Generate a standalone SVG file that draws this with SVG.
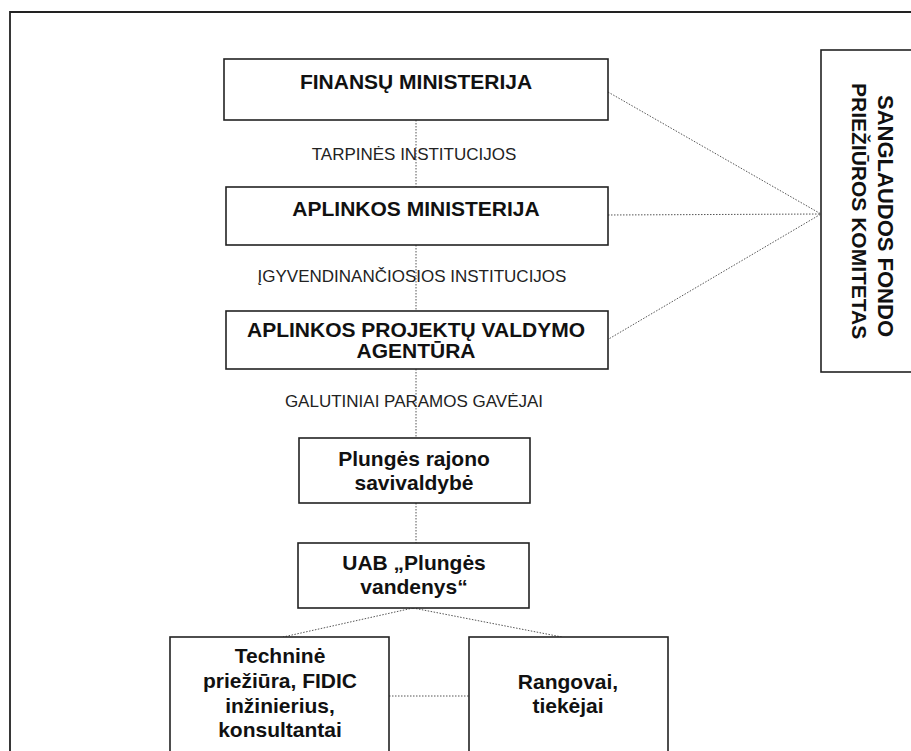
<svg xmlns="http://www.w3.org/2000/svg" width="911" height="751" viewBox="0 0 911 751">
<style>
.box{fill:#fff;stroke:#222;stroke-width:1.6}
.t{font-family:"Liberation Sans",Arial,sans-serif;font-weight:bold;font-size:21px;fill:#111;text-anchor:middle}
.lbl{font-family:"Liberation Sans",Arial,sans-serif;font-size:17px;fill:#222;text-anchor:middle}
.vt{font-family:"Liberation Sans",Arial,sans-serif;font-weight:bold;fill:#111}
.c{stroke:#555;stroke-width:1;stroke-dasharray:1.5 1.5;fill:none}
</style>
<rect width="911" height="751" fill="#fff"/>
<path d="M10,751 V12 H911" fill="none" stroke="#222" stroke-width="1.8"/>
<g id="connectors">
<line class="c" x1="416" y1="120" x2="416" y2="187"/>
<line class="c" x1="416" y1="245" x2="416" y2="311"/>
<line class="c" x1="416" y1="369" x2="416" y2="438"/>
<line class="c" x1="416" y1="503" x2="416" y2="543"/>
<line class="c" x1="608" y1="92" x2="821" y2="214"/>
<line class="c" x1="608" y1="215" x2="821" y2="214"/>
<line class="c" x1="607" y1="340" x2="821" y2="214"/>
<line class="c" x1="413" y1="608" x2="283" y2="637"/>
<line class="c" x1="413" y1="608" x2="562" y2="637"/>
<line class="c" x1="389" y1="696" x2="469" y2="696"/>
</g>
<g id="labels">
<text class="lbl" x="414" y="160">TARPINĖS INSTITUCIJOS</text>
<text class="lbl" x="412" y="282">ĮGYVENDINANČIOSIOS INSTITUCIJOS</text>
<text class="lbl" x="414" y="407">GALUTINIAI PARAMOS GAVĖJAI</text>
</g>
<g id="finansu">
<rect class="box" x="224" y="59" width="384" height="61"/>
<text class="t" x="416" y="89">FINANSŲ MINISTERIJA</text>
</g>
<g id="aplinkos">
<rect class="box" x="226" y="187" width="382" height="58"/>
<text class="t" x="416" y="216">APLINKOS MINISTERIJA</text>
</g>
<g id="apva">
<rect class="box" x="226" y="311" width="382" height="58"/>
<text class="t" x="416" y="337">APLINKOS PROJEKTŲ VALDYMO</text>
<text class="t" x="416" y="358">AGENTŪRA</text>
</g>
<g id="sanglaudos">
<rect class="box" x="821" y="50" width="100" height="322"/>
<text class="vt" font-size="22" transform="translate(878,95) rotate(90)">SANGLAUDOS FONDO</text>
<text class="vt" font-size="21" transform="translate(852,83) rotate(90)">PRIEŽIŪROS KOMITETAS</text>
</g>
<g id="plunges-savivaldybe">
<rect class="box" x="299" y="438" width="231" height="65"/>
<text class="t" x="414" y="466">Plungės rajono</text>
<text class="t" x="414" y="490">savivaldybė</text>
</g>
<g id="plunges-vandenys">
<rect class="box" x="298" y="543" width="231" height="65"/>
<text class="t" x="414" y="570">UAB „Plungės</text>
<text class="t" x="414" y="594">vandenys“</text>
</g>
<g id="technine">
<rect class="box" x="170" y="637" width="219" height="130"/>
<text class="t" x="280" y="663">Techninė</text>
<text class="t" x="280" y="688">priežiūra, FIDIC</text>
<text class="t" x="280" y="713">inžinierius,</text>
<text class="t" x="280" y="737">konsultantai</text>
</g>
<g id="rangovai">
<rect class="box" x="469" y="637" width="199" height="130"/>
<text class="t" x="568" y="689">Rangovai,</text>
<text class="t" x="568" y="713">tiekėjai</text>
</g>
</svg>
